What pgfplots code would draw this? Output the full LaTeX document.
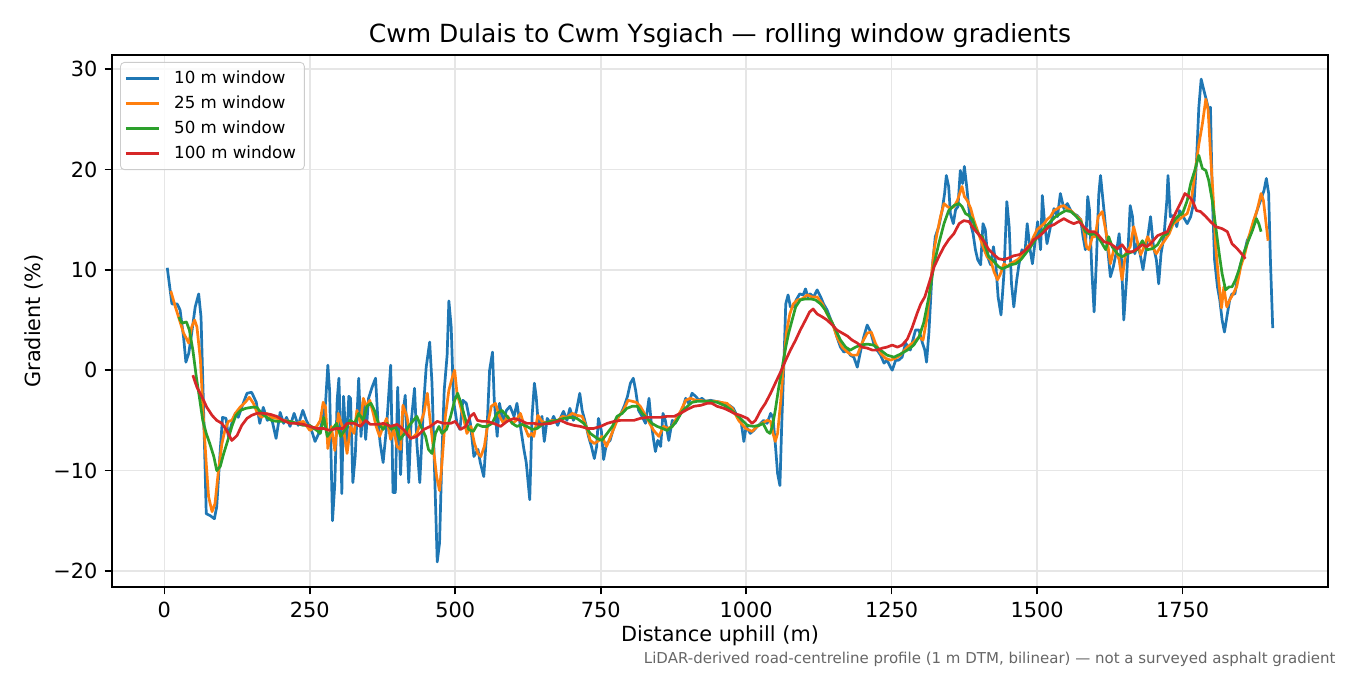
\documentclass[border=0pt]{standalone}
\usepackage{fontspec}
\setmainfont{DejaVu Sans}
\usepackage{pgfplots}
\pgfplotsset{compat=1.18}
\definecolor{cten}{HTML}{1F77B4}
\definecolor{ctwentyfive}{HTML}{FF7F0E}
\definecolor{cfifty}{HTML}{2CA02C}
\definecolor{chundred}{HTML}{D62728}
\definecolor{gridgrey}{HTML}{E6E6E6}
\definecolor{notegrey}{HTML}{666666}

\begin{document}
\begin{tikzpicture}
\path[use as bounding box] (-53.76pt,-42.24pt) rectangle (594.24pt,281.76pt);
\begin{axis}[
    width=583.68pt, height=255.36pt, scale only axis,
    xmin=-90, xmax=2000, ymin=-21.6, ymax=31.4,
    xtick={0,250,500,750,1000,1250,1500,1750},
    xticklabels={0,250,500,750,1000,1250,1500,1750},
    ytick={-20,-10,0,10,20,30},
    yticklabels={−20,−10,0,10,20,30},
    tick label style={font=\fontsize{10}{12}\selectfont},
    tick pos=left, tick align=outside,
    major tick length=3.5pt,
    every tick/.style={black, line width=0.8pt},
    axis line style={line width=0.8pt},
    grid=major,
    major grid style={gridgrey, line width=0.8pt},
    title={Cwm Dulais to Cwm Ysgiach — rolling window gradients},
    title style={at={(axis description cs:0.5,1.0)}, anchor=base, font=\fontsize{12}{14}\selectfont},
    xlabel={Distance uphill (m)},
    xlabel style={at={(axis description cs:0.5,-0.103)}, anchor=base, font=\fontsize{10}{12}\selectfont},
    ylabel={Gradient (\%)},
    ylabel style={at={(axis description cs:-0.064,0.5)}, anchor=center, rotate=0, font=\fontsize{10}{12}\selectfont},
    legend style={at={(axis description cs:0.0066,0.987)}, anchor=north west,
        font=\fontsize{8}{9.6}\selectfont, draw={rgb,255:red,204;green,204;blue,204},
        rounded corners=2pt, fill=white, fill opacity=0.8, text opacity=1,
        inner sep=2pt, row sep=0.4pt, cells={anchor=west}},
    legend image code/.code={\draw[#1] (0pt,0pt) -- (16pt,0pt); \path (20.5pt,0pt);},
    no markers,
    every axis plot/.append style={line width=1.3pt, line join=round},
]

\addplot[cten] coordinates {
(5,10.2) (13,6.6) (22,6.6) (27,6) (33,3.3) (37,0.8) (42,1.7) (47,3.7) (53,6.3) (59,7.6)
(63,5.3) (67,-3) (72,-14.3) (79,-14.5) (86,-14.8) (90,-13.6) (96,-8) (100,-4.7) (106,-4.8) (110,-6.6)
(116,-5.3) (122,-4.3) (127,-4.7) (133,-3.7) (142,-2.3) (150,-2.2) (158,-3.2) (164,-5.3) (170,-3.7) (177,-5)
(184,-4.7) (192,-6.8) (199,-4.2) (205,-5.3) (210,-4.7) (216,-5.6) (223,-4.3) (230,-5.5) (238,-4) (244,-5)
(253,-6) (259,-7.1) (267,-6.1) (273,-4.7) (277,-3.3) (281,0.5) (284,-2) (289,-15) (293,-11.3) (297,-3)
(300,-0.8) (303,-6.6) (305,-12.3) (308,-2.6) (313,-7.9) (317,-2.6) (320,-2.8) (324,-11.2) (328,-8.6) (334,-0.8)
(338,-6.6) (342,-3.1) (346,-6.9) (351,-2.8) (357,-1.7) (363,-0.8) (367,-5) (371,-7.3) (376,-9.2) (382,-5.6)
(389,0.5) (393,-12.2) (397,-12.2) (401,-1.7) (406,-10.4) (410,-4.3) (414,-2.5) (420,-11.2) (424,-5.3) (430,-1.8)
(434,-7.3) (439,-11.2) (445,-4) (450,0.3) (456,2.8) (460,-1.3) (464,-9.2) (469,-19.1) (473,-17.2) (477,-8.6)
(481,-2) (486,1.5) (489,6.9) (493,4.3) (497,-3) (503,-5.3) (508,-5.9) (513,-3) (519,-3.3) (526,-5.3)
(532,-8.6) (539,-7.9) (543,-9.2) (549,-10.6) (555,-5.3) (559,0) (564,1.8) (567,-3) (572,-6.6) (576,-3.3)
(582,-5.1) (588,-4) (594,-3.6) (601,-4.6) (606,-3.3) (612,-5.6) (618,-7.9) (622,-9.2) (628,-12.9) (632,-4.6)
(636,-1.3) (639,-2.6) (643,-5.6) (649,-4.6) (653,-7.1) (658,-4.8) (664,-5.3) (669,-4.6) (676,-5.5) (682,-4.6)
(686,-4.1) (692,-5) (697,-3.8) (703,-5) (708,-4.1) (714,-2.3) (718,-4) (724,-5.3) (729,-6.6) (734,-7.6)
(739,-8.8) (743,-7.6) (746,-4.8) (751,-6) (755,-8.9) (760,-7.3) (766,-7) (771,-6) (778,-4.8) (785,-4.3)
(791,-3.5) (796,-2.6) (801,-1.3) (806,-0.8) (810,-2) (815,-4) (821,-4.6) (827,-5.3) (833,-2.8) (837,-5.3)
(841,-7) (844,-8.1) (848,-7) (853,-7.6) (857,-4.3) (861,-5) (867,-7) (873,-5) (878,-5.3) (884,-4.6)
(890,-4) (896,-2.8) (901,-3.3) (907,-2.3) (913,-2.6) (919,-3) (924,-2.8) (930,-3.1) (939,-3) (947,-3.1)
(956,-3.2) (964,-3.4) (971,-3.5) (978,-3.8) (984,-4.5) (991,-5) (996,-7.1) (1000,-5.6) (1007,-6.3) (1013,-6)
(1019,-5.6) (1025,-5.3) (1030,-5) (1036,-5.3) (1042,-4.3) (1046,-4.7) (1050,-7.3) (1054,-10.3) (1058,-11.5) (1061,-5.6)
(1065,1) (1068,6.6) (1072,7.5) (1076,6.3) (1081,6.3) (1086,7) (1092,7.6) (1098,7.5) (1102,8.1) (1106,7.3)
(1110,7.6) (1116,7.3) (1122,8) (1128,7.3) (1133,6.6) (1139,6) (1145,5.1) (1151,4.3) (1156,3.3) (1162,2.3)
(1168,1.8) (1174,2) (1179,1.5) (1185,1.3) (1191,0.3) (1197,2) (1202,3.3) (1208,4.5) (1214,3.8) (1219,2.7)
(1225,2) (1231,1.5) (1237,0.7) (1242,1) (1248,0.3) (1251,0) (1257,1) (1262,1) (1268,1.3) (1274,2.7)
(1282,2) (1291,4) (1297,4) (1303,2.7) (1307,2) (1310,0.8) (1314,3.7) (1320,10.3) (1325,13.3) (1331,14.3)
(1337,16) (1341,17.6) (1344,19.4) (1348,18.3) (1351,15.6) (1356,14.6) (1360,16) (1364,16.3) (1368,19.9) (1372,18.6)
(1375,20.3) (1379,18.3) (1383,16) (1387,14.3) (1390,13.6) (1394,12) (1398,11) (1403,10.5) (1407,14.6) (1411,14)
(1415,11.3) (1420,10.5) (1425,12.3) (1429,10.6) (1433,7.3) (1438,5.5) (1443,9.6) (1448,16.8) (1452,14.3) (1456,8.6)
(1460,6.3) (1465,9) (1469,10.6) (1474,12) (1479,11.6) (1483,14.6) (1488,12) (1492,10.6) (1497,13) (1501,14.8)
(1506,12) (1509,17.4) (1513,14.6) (1517,12.6) (1523,14.3) (1529,16.1) (1535,15.3) (1540,17.6) (1546,16.1) (1552,16.6)
(1558,15.9) (1563,15.6) (1569,15.4) (1575,15) (1579,13.3) (1583,12) (1587,17.3) (1590,16) (1594,10) (1598,5.8)
(1602,11) (1606,17.5) (1609,19.4) (1615,15.9) (1621,12.3) (1626,9.3) (1631,10.3) (1637,12) (1641,13.6) (1645,11)
(1649,5) (1654,9.3) (1660,16.4) (1664,15.3) (1668,11.6) (1672,12.6) (1677,11.6) (1682,10) (1688,12.3) (1695,15.3)
(1700,12.3) (1705,11) (1709,8.6) (1713,11.6) (1718,13.3) (1723,16.9) (1725,19.4) (1729,15.3) (1734,15.4) (1740,14.3)
(1745,15.9) (1751,15.3) (1758,14.6) (1764,15.3) (1770,16.9) (1774,20.9) (1778,26.2) (1782,29) (1787,27.8) (1791,26.9)
(1795,25.9) (1798,26.2) (1801,17.6) (1805,11) (1810,8.3) (1814,7) (1818,5) (1822,3.8) (1827,5.6) (1831,7)
(1835,7.6) (1840,7.6) (1844,9) (1850,10.6) (1856,11.6) (1861,12.9) (1867,13.6) (1873,14.9) (1878,15.9) (1884,16.9)
(1890,17.9) (1894,19.1) (1898,17.6) (1901,11) (1905,4.2)
};
\addlegendentry{10 m window}

\addplot[ctwentyfive] coordinates {
(11,7.9) (19,6.3) (26,5) (33,3.7) (42,2.7) (47,4.3) (52,5) (56,4.3) (62,1) (67,-4.7)
(72,-9.3) (76,-12.6) (82,-14.1) (87,-13.3) (93,-10) (99,-7.3) (104,-6) (110,-5.1) (116,-5) (122,-4.3)
(130,-3.7) (139,-3.2) (146,-2.7) (153,-3.3) (160,-4.3) (167,-4.7) (176,-4.3) (184,-4.7) (193,-4.8) (204,-5)
(216,-5.1) (227,-5.3) (239,-5.1) (250,-6) (262,-5.6) (268,-5) (273,-3.2) (277,-3.7) (281,-7.8) (287,-5.6)
(293,-8) (299,-4.3) (304,-5.3) (308,-5.9) (314,-8.3) (320,-5.6) (326,-6.3) (331,-4) (337,-5.3) (342,-2.8)
(347,-3.6) (353,-3) (359,-4.3) (364,-5.6) (370,-6.6) (376,-5.6) (382,-4.8) (389,-6.9) (394,-5.9) (400,-7.6)
(406,-7.9) (410,-3.5) (417,-4.6) (423,-6.8) (429,-6.6) (434,-6.3) (440,-5.3) (446,-4.3) (452,-2.3) (456,-4.6)
(462,-7.6) (468,-10.6) (473,-12) (478,-8.6) (483,-4.6) (489,-2) (495,-0.7) (499,0) (503,-2.3) (509,-3.6)
(515,-5) (520,-6.3) (527,-5.6) (533,-7.3) (539,-8.3) (544,-8.6) (550,-7.6) (556,-5.3) (562,-3.6) (569,-3.3)
(576,-4.6) (583,-5.3) (590,-4.6) (598,-5.3) (605,-5) (612,-4.3) (619,-5.6) (626,-6.6) (631,-6.3) (635,-6.6)
(642,-4.5) (649,-5.1) (658,-5.3) (666,-5) (675,-5.1) (684,-4.6) (692,-4.7) (701,-4.3) (709,-4.5) (718,-4.6)
(725,-5.6) (732,-7) (739,-7.3) (747,-7) (752,-6.6) (760,-7.6) (767,-6.6) (774,-5.6) (781,-4.6) (789,-4)
(797,-3) (804,-3.1) (811,-3.2) (818,-3.6) (827,-4.5) (834,-5.3) (841,-6) (850,-6.6) (858,-5.6) (865,-5.8)
(873,-5.6) (880,-4.8) (888,-4) (896,-3) (904,-2.8) (913,-3) (921,-3) (930,-3.1) (939,-3.1) (947,-3.1)
(956,-3.2) (967,-3.3) (976,-3.8) (987,-5) (999,-5.8) (1010,-6.1) (1019,-5.6) (1027,-5.3) (1036,-5) (1042,-5.1)
(1046,-6.3) (1050,-7.1) (1054,-6.3) (1059,-3.3) (1064,0.3) (1069,3.7) (1075,5.6) (1081,6.6) (1088,7) (1096,7.1)
(1105,7.5) (1113,7.3) (1122,7.3) (1131,6.6) (1139,5.6) (1148,4.7) (1156,3.3) (1165,2.3) (1174,1.8) (1182,1.5)
(1191,1.5) (1199,2.7) (1208,3.7) (1215,3.8) (1222,2.7) (1231,1.7) (1239,1.2) (1248,1) (1257,1.2) (1265,1.5)
(1277,2.3) (1288,2.8) (1297,3.3) (1304,3) (1311,5.3) (1317,8.6) (1323,12) (1328,13.6) (1334,15.3) (1340,16.6)
(1346,16.3) (1351,16.1) (1357,16.3) (1363,16.9) (1367,17.6) (1371,18.3) (1375,17.3) (1380,16.9) (1386,16.1) (1391,15)
(1397,14) (1403,13) (1409,12) (1414,11.3) (1420,11) (1426,9.8) (1432,9) (1437,9.6) (1443,10.6) (1449,10.3)
(1454,10.6) (1460,10.8) (1466,11) (1472,11.3) (1477,11.6) (1483,12.3) (1489,12.6) (1494,13.3) (1500,14) (1506,14.3)
(1512,14.6) (1517,15) (1523,15.3) (1529,15.9) (1535,16.1) (1540,16.3) (1546,16.4) (1552,16.1) (1558,15.9) (1563,15.6)
(1569,15.3) (1575,15) (1580,14) (1585,12.3) (1589,12) (1595,13.3) (1600,13.3) (1605,15.3) (1612,15.8) (1619,13.6)
(1626,10.6) (1633,12.3) (1641,11) (1646,9) (1652,11.6) (1660,12.3) (1666,14.3) (1672,12.9) (1678,11.5) (1684,12.3)
(1690,13.3) (1698,12.3) (1705,11.6) (1712,12.3) (1719,12.9) (1727,13.6) (1734,14.6) (1742,14.9) (1750,15.3) (1758,15.6)
(1765,16.9) (1772,19.9) (1778,22.5) (1784,24.5) (1790,27) (1794,25.9) (1798,21.6) (1803,16.9) (1807,12.3) (1812,9)
(1817,6.2) (1821,8.3) (1826,6.3) (1831,7) (1837,7.6) (1843,8.3) (1850,10.3) (1857,11.6) (1864,13.3) (1872,14.9)
(1878,15.9) (1885,17.6) (1889,16.9) (1893,14.9) (1897,12.9)
};
\addlegendentry{25 m window}

\addplot[cfifty] coordinates {
(25,5.3) (30,4.7) (38,4.8) (43,4) (49,2) (55,-0.7) (61,-3) (66,-5) (72,-6.3) (78,-7.3)
(85,-8.6) (90,-10) (96,-9.6) (102,-8.3) (109,-7) (116,-5.6) (123,-4.5) (131,-4) (140,-3.8) (150,-3.7)
(159,-3.7) (167,-4.3) (176,-4.7) (184,-5) (193,-5.1) (204,-5.1) (216,-5.1) (227,-5.3) (239,-5.5) (250,-5.5)
(262,-6) (268,-6.3) (274,-4.7) (280,-6.6) (287,-6) (296,-5.3) (303,-6.6) (311,-5.9) (319,-5) (327,-5.3)
(334,-4.3) (342,-5) (348,-3.6) (355,-3.3) (361,-4) (368,-5.3) (376,-5.9) (383,-5.3) (390,-5.9) (397,-5.6)
(405,-6.9) (413,-6.3) (420,-5.6) (428,-5) (434,-4.6) (441,-5.6) (449,-6.6) (454,-7.9) (460,-8.3) (466,-6.3)
(472,-5.6) (477,-6.3) (485,-5.9) (492,-4.6) (499,-3) (504,-2.3) (510,-3.3) (516,-4.6) (523,-5.9) (531,-6.1)
(538,-5.4) (546,-5.6) (555,-5.6) (563,-5.3) (572,-4.3) (580,-4) (589,-4.6) (598,-5.3) (606,-5.6) (615,-5.4)
(623,-5.6) (632,-5.9) (641,-5.8) (652,-5.3) (664,-5.1) (675,-5) (687,-4.8) (698,-4.7) (709,-4.8) (721,-5.3)
(732,-6.3) (744,-6.8) (752,-7) (761,-6.3) (770,-5.6) (778,-4.6) (787,-4.3) (795,-3.8) (804,-3.6) (813,-3.6)
(821,-4.3) (830,-4.8) (838,-5.3) (847,-5.6) (856,-5.8) (864,-6) (873,-5.6) (881,-5) (890,-4.1) (899,-3.6)
(907,-3.2) (916,-3.1) (927,-3.1) (939,-3.1) (950,-3.2) (962,-3.5) (973,-3.9) (979,-4.2) (990,-4.8) (1002,-5.5)
(1013,-5.6) (1022,-5.5) (1029,-5.3) (1036,-6.1) (1041,-6.3) (1045,-5.6) (1050,-4) (1056,-1.7) (1062,0.3) (1068,2.3)
(1073,3.7) (1079,5) (1085,6.3) (1093,7) (1102,7.1) (1111,7.1) (1119,7) (1128,6.6) (1136,6) (1145,5)
(1154,4) (1162,3) (1171,2.3) (1179,2) (1188,2.3) (1197,2.5) (1208,2.6) (1219,2.5) (1231,2) (1242,1.5)
(1254,1.3) (1265,1.6) (1277,2) (1288,2.5) (1297,3.3) (1305,4.7) (1314,7.3) (1323,10.6) (1331,12.6) (1340,14.6)
(1348,15.9) (1357,16.4) (1366,16.6) (1371,16.3) (1377,15.6) (1383,15.4) (1389,15) (1394,14.1) (1400,13.5) (1406,13.3)
(1411,12.3) (1417,11.3) (1423,11) (1429,10.6) (1434,10.3) (1440,10.1) (1448,10.3) (1454,10.5) (1463,10.6) (1472,11)
(1480,11.6) (1489,12.3) (1497,13) (1506,13.6) (1515,14.3) (1523,14.8) (1532,15.3) (1540,15.6) (1549,15.9) (1558,15.8)
(1566,15.4) (1575,14.8) (1583,13.8) (1592,13.5) (1600,13.6) (1609,12.9) (1618,12) (1623,13.3) (1629,12.3) (1638,11.6)
(1646,11.3) (1655,11.6) (1664,11.8) (1672,12) (1681,12.9) (1689,12) (1698,12.1) (1707,12.5) (1715,13.3) (1724,13.6)
(1732,14.6) (1741,15.3) (1750,15.6) (1758,16.9) (1764,18.6) (1771,19.9) (1778,21.4) (1784,20.1) (1790,19.9) (1795,18.9)
(1801,16.9) (1807,14.3) (1813,11.6) (1818,9.6) (1824,8) (1830,8.3) (1835,8.3) (1841,9) (1847,10) (1853,11.3)
(1861,12.6) (1870,13.9) (1877,15.1) (1881,14.6) (1885,13.8)
};
\addlegendentry{50 m window}

\addplot[chundred] coordinates {
(49,-0.5) (56,-1.7) (65,-2.7) (73,-3.7) (82,-4.5) (90,-5) (99,-5.3) (107,-6) (116,-7) (125,-6.5)
(133,-5.5) (142,-4.8) (150,-4.5) (159,-4.3) (170,-4.3) (182,-4.4) (193,-4.6) (204,-5) (216,-5.3) (227,-5.3)
(239,-5.4) (250,-5.6) (262,-5.8) (273,-5.8) (284,-6) (296,-5.8) (307,-5.8) (314,-5.3) (326,-5.3) (337,-5.6)
(346,-5) (354,-5.4) (366,-5.4) (377,-5.3) (389,-5.6) (400,-5.4) (411,-5.9) (423,-6.8) (434,-6.6) (446,-5.9)
(457,-5.6) (469,-5.1) (480,-5.3) (492,-5.3) (500,-5.1) (509,-5.9) (518,-5.6) (526,-4.6) (532,-4.3) (538,-5)
(546,-5.1) (555,-5.1) (566,-5.3) (578,-5.6) (589,-5.1) (601,-4.8) (612,-5) (623,-5.3) (635,-5.3) (646,-5.4)
(664,-5.3) (681,-5) (692,-5.3) (704,-5.5) (715,-5.6) (727,-5.8) (738,-5.8) (750,-5.6) (761,-5.3) (773,-5.1)
(784,-5) (795,-5) (807,-5) (818,-4.8) (830,-4.7) (841,-4.7) (853,-4.7) (864,-4.6) (876,-4.6) (887,-4.3)
(899,-3.9) (910,-3.6) (922,-3.5) (933,-3.3) (941,-3.3) (950,-3.6) (962,-3.8) (973,-4.1) (979,-4.3) (990,-4.5)
(1002,-4.8) (1010,-5.3) (1016,-5) (1025,-4) (1033,-3.3) (1042,-2.3) (1050,-1.3) (1059,-0.2) (1068,1) (1076,2)
(1085,3) (1093,4) (1102,5) (1109,5.8) (1115,6.1) (1122,5.6) (1131,5.3) (1139,5) (1148,4.5) (1156,4)
(1165,3.7) (1174,3.4) (1182,3) (1191,2.7) (1199,2.3) (1208,2.2) (1217,2) (1225,2) (1234,2.2) (1242,2.3)
(1251,2.5) (1260,2.3) (1268,2.5) (1277,3.1) (1285,4.2) (1294,5.7) (1300,6.6) (1307,7.3) (1314,8.6) (1323,10.3)
(1331,11.3) (1340,12.3) (1348,13) (1357,13.6) (1366,14.6) (1374,14.9) (1383,14.8) (1391,14.1) (1400,13.5) (1409,12.8)
(1417,12) (1426,11.5) (1434,11.1) (1443,11) (1452,11.2) (1460,11.4) (1469,11.5) (1477,11.8) (1486,12.3) (1494,13)
(1503,13.3) (1512,13.8) (1520,14.3) (1529,14.5) (1537,14.8) (1546,15.1) (1555,14.8) (1563,14.6) (1572,14.8) (1580,14.3)
(1589,13.8) (1598,13.8) (1603,13.6) (1615,12.8) (1626,12.6) (1638,12.1) (1646,12.5) (1655,11.8) (1664,11.8) (1672,12.1)
(1681,12.5) (1689,12.3) (1698,12.8) (1707,13.4) (1715,13.6) (1724,13.8) (1732,14.9) (1740,15.9) (1747,16.7) (1754,17.6)
(1761,17.3) (1767,16.9) (1774,15.9) (1781,15.8) (1790,15.3) (1798,14.8) (1807,14.3) (1818,14.1) (1827,13.8) (1835,12.6)
(1844,12.1) (1853,11.5) (1858,11.1)
};
\addlegendentry{100 m window}

\end{axis}
\node[anchor=base east, inner sep=0pt, font=\fontsize{7.2}{8.6}\selectfont, text=notegrey] at (587.5pt,-36.96pt)
    {LiDAR-derived road-centreline profile (1 m DTM, bilinear) — not a surveyed asphalt gradient};
\end{tikzpicture}
\end{document}
